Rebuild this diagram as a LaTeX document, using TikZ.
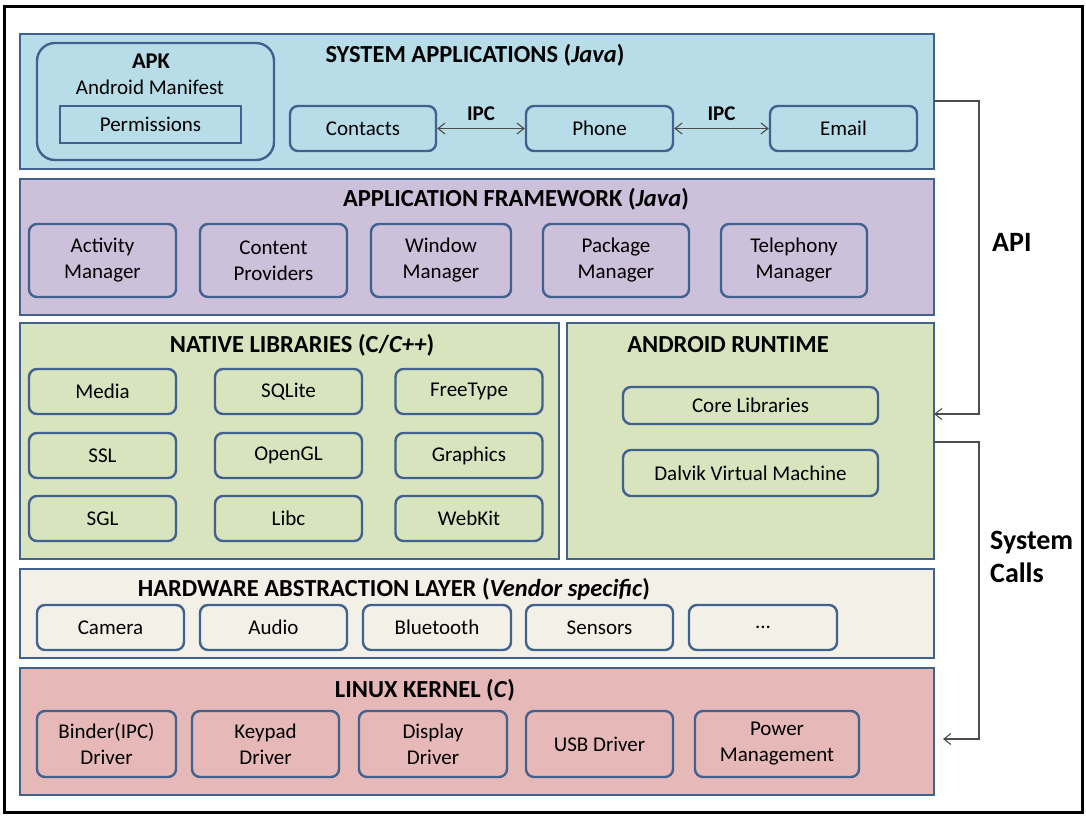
\documentclass[tikz,border=0pt]{standalone}
\usepackage{fontspec}
\setmainfont{Carlito}
\usetikzlibrary{arrows.meta}

\definecolor{sysblue}{HTML}{B7DEE8}
\definecolor{fwpurple}{HTML}{CCC0DA}
\definecolor{libgreen}{HTML}{D7E4BD}
\definecolor{halcream}{HTML}{F3F1E7}
\definecolor{kernpink}{HTML}{E6B9B8}
\definecolor{edgeblue}{HTML}{41618E}

\tikzstyle{layer} = [rectangle, draw=edgeblue, line width=2.6pt]
\tikzstyle{bx} = [rectangle, rounded corners=8pt, draw=edgeblue, line width=2.4pt, align=center]
\tikzstyle{ttl} = [font=\fontsize{24.5}{27}\selectfont\bfseries]
\tikzstyle{ipc} = [font=\fontsize{21}{24}\selectfont\bfseries]
\tikzstyle{side} = [font=\fontsize{28}{33}\selectfont\bfseries, align=left, anchor=west]
\tikzstyle{conn} = [draw=black!70, line width=1.1pt]
\tikzstyle{every node}=[font=\fontsize{21}{26}\selectfont, inner sep=0pt]

\begin{document}
\begin{tikzpicture}[x=1pt, y=-1pt, >={Straight Barb[length=7pt, width=11pt]}]
  \useasboundingbox (0,0) rectangle (1086,817);
  \draw[line width=3pt] (4,6) rectangle (1082,812);

  % system applications
  \node[layer, fill=sysblue, minimum width=914pt, minimum height=135pt] (sys) at (477,101.5) {};
  \node[ttl] (systtl) at (475,55) {SYSTEM APPLICATIONS (\textit{Java})};
  \node[bx, rounded corners=18pt, minimum width=237pt, minimum height=117pt] (apk) at (155.5,101.5) {};
  \node[ttl, font=\fontsize{22.5}{24}\selectfont\bfseries] (apkttl) at (151,61) {APK};
  \node (manifest) at (150,87) {Android Manifest};
  \node[layer, line width=2.4pt, minimum width=181pt, minimum height=37pt] (perm) at (150.5,124.5) {Permissions};
  \node[bx, minimum width=146pt, minimum height=45pt] (contacts) at (363,128.5) {Contacts};
  \node[bx, minimum width=147pt, minimum height=45pt] (phone) at (599.5,128.5) {Phone};
  \node[bx, minimum width=147pt, minimum height=45pt] (email) at (843.5,128.5) {Email};
  \draw[conn, <->] (contacts) -- node[ipc, above=7pt] {IPC} (phone);
  \draw[conn, <->] (phone) -- node[ipc, above=7pt] {IPC} (email);

  % application framework
  \node[layer, fill=fwpurple, minimum width=914pt, minimum height=136pt] (fw) at (477,247) {};
  \node[ttl] (fwttl) at (516,199) {APPLICATION FRAMEWORK (\textit{Java})};
  \node[bx, minimum width=147pt, minimum height=73pt] (activity) at (102.5,260.5) {Activity\\Manager};
  \node[bx, minimum width=147pt, minimum height=73pt] (content) at (273.5,260.5) {Content\\Providers};
  \node[bx, minimum width=140pt, minimum height=73pt] (window) at (441,260.5) {Window\\Manager};
  \node[bx, minimum width=146pt, minimum height=73pt] (package) at (616,260.5) {Package\\Manager};
  \node[bx, minimum width=146pt, minimum height=73pt] (telephony) at (794,260.5) {Telephony\\Manager};

  % native libraries
  \node[layer, fill=libgreen, minimum width=539pt, minimum height=236pt] (lib) at (289.5,441) {};
  \node[ttl] (libttl) at (302,345) {NATIVE LIBRARIES (C/\textit{C++})};
  \node[bx, minimum width=147pt, minimum height=45pt] (media) at (102.5,391.5) {Media};
  \node[bx, minimum width=147pt, minimum height=45pt] (sqlite) at (288.5,391.5) {SQLite};
  \node[bx, minimum width=147pt, minimum height=45pt] (freetype) at (469,391.5) {FreeType};
  \node[bx, minimum width=147pt, minimum height=45pt] (ssl) at (102.5,455.5) {SSL};
  \node[bx, minimum width=147pt, minimum height=45pt] (opengl) at (288.5,455.5) {OpenGL};
  \node[bx, minimum width=147pt, minimum height=45pt] (graphics) at (469,455.5) {Graphics};
  \node[bx, minimum width=147pt, minimum height=45pt] (sgl) at (102.5,518.5) {SGL};
  \node[bx, minimum width=147pt, minimum height=45pt] (libc) at (288.5,518.5) {Libc};
  \node[bx, minimum width=147pt, minimum height=45pt] (webkit) at (469,518.5) {WebKit};

  % android runtime
  \node[layer, fill=libgreen, minimum width=367pt, minimum height=236pt] (rt) at (750.5,441) {};
  \node[ttl] (rtttl) at (728,345) {ANDROID RUNTIME};
  \node[bx, minimum width=255pt, minimum height=37pt] (core) at (750.5,405.5) {Core Libraries};
  \node[bx, minimum width=255pt, minimum height=46pt] (dalvik) at (750.5,473) {Dalvik Virtual Machine};

  % hardware abstraction layer
  \node[layer, fill=halcream, minimum width=914pt, minimum height=89pt] (hal) at (477,613.5) {};
  \node[ttl] (halttl) at (394,589) {HARDWARE ABSTRACTION LAYER (\textit{Vendor specific})};
  \node[bx, minimum width=147pt, minimum height=45pt] (camera) at (110.5,627.5) {Camera};
  \node[bx, minimum width=147pt, minimum height=45pt] (audio) at (273.5,627.5) {Audio};
  \node[bx, minimum width=148pt, minimum height=45pt] (bluetooth) at (437,627.5) {Bluetooth};
  \node[bx, minimum width=147pt, minimum height=45pt] (sensors) at (599.5,627.5) {Sensors};
  \node[bx, minimum width=148pt, minimum height=45pt] (more) at (763,627.5) {...};

  % linux kernel
  \node[layer, fill=kernpink, minimum width=914pt, minimum height=127pt] (kern) at (477,731.5) {};
  \node[ttl] (kernttl) at (425,690) {LINUX KERNEL (\textit{C})};
  \node[bx, minimum width=139pt, minimum height=66pt] (binder) at (106.5,744) {Binder(IPC)\\Driver};
  \node[bx, minimum width=147pt, minimum height=66pt] (keypad) at (265.5,744) {Keypad\\Driver};
  \node[bx, minimum width=148pt, minimum height=66pt] (display) at (433,744) {Display\\Driver};
  \node[bx, minimum width=147pt, minimum height=66pt] (usb) at (599.5,744) {USB Driver};
  \node[bx, minimum width=164pt, minimum height=66pt] (power) at (777,744) {Power\\Management};

  % api and system calls
  \coordinate (apiout) at (934,101);
  \coordinate (apiin) at (934,414);
  \coordinate (scout) at (934,442);
  \coordinate (scin) at (943,739);
  \draw[conn, ->] (apiout) -- (979,101) |- (apiin);
  \draw[conn, ->] (scout) -- (979,442) |- (scin);
  \node[side] (api) at (992,242) {API};
  \node[side] (syscalls) at (990,557) {System\\Calls};
\end{tikzpicture}
\end{document}
